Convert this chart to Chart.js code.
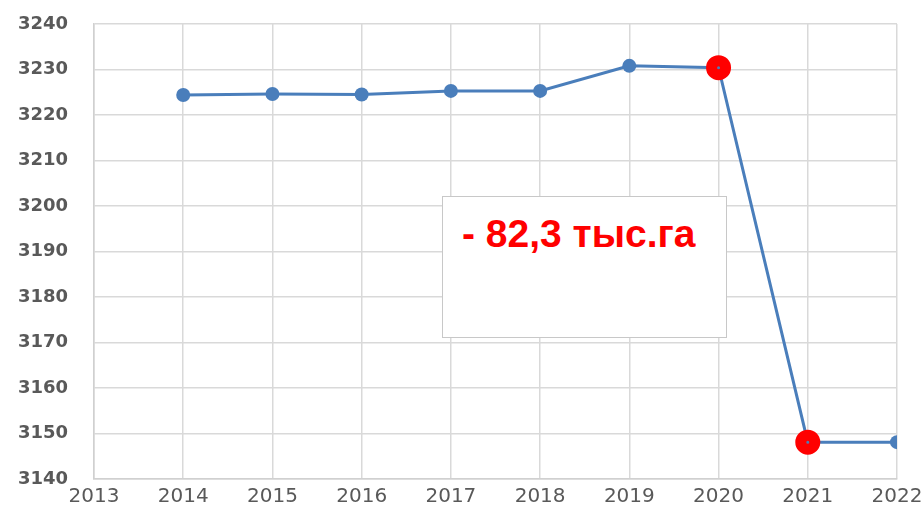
<!DOCTYPE html>
<html>
<head>
<meta charset="utf-8">
<script src="https://cdn.jsdelivr.net/npm/chart.js@4"></script>
<style>
  body { margin: 0; background: #fff; }
  #wrap { position: relative; width: 924px; height: 521px; }
  #note {
    position: absolute; left: 442px; top: 196px; width: 285px; height: 142px;
    border: 1.5px solid #c8c8c8; background: #fff; box-sizing: border-box;
  }
  #note span {
    position: absolute; left: 19px; top: 15px; color: #ff0000;
    font: bold 39px "Liberation Sans", Arial, sans-serif; white-space: nowrap;
  }
</style>
</head>
<body>
<div id="wrap">
  <canvas id="ctx" width="924" height="521"></canvas>
  <div id="note"><span>- 82,3 тыс.га</span></div>
</div>
<script>
const years = [2014, 2015, 2016, 2017, 2018, 2019, 2020, 2021, 2022];
const area = [3224.4, 3224.6, 3224.5, 3225.3, 3225.3, 3230.8, 3230.4, 3148.1, 3148.1];
const highlight = [2020, 2021];
const yTicks = [3140, 3150, 3160, 3170, 3180, 3190, 3200, 3210, 3220, 3230, 3240];

const points = [];
for (let i = 0; i < years.length; i++) {
  points.push({ x: years[i], y: area[i] });
}
const isHot = (c) => highlight.includes(years[c.dataIndex]);

const ctx = document.getElementById("ctx");
new Chart(ctx, {
  type: "line",
  data: {
    datasets: [
      {
        data: points,
        borderColor: "#4a7ebb",
        borderWidth: 3,
        pointRadius: 7,
        pointBackgroundColor: "#4a7ebb",
        pointBorderColor: (c) => (isHot(c) ? "#ff0000" : "#4a7ebb"),
        pointBorderWidth: (c) => (isHot(c) ? 11 : 0),
        tension: 0,
      },
    ],
  },
  options: {
    responsive: false,
    animation: false,
    layout: { padding: { top: 24, right: 27, left: 0, bottom: 0 } },
    plugins: { legend: { display: false }, tooltip: { enabled: false } },
    scales: {
      x: {
        type: "linear",
        min: 2013,
        max: 2022,
        ticks: {
          stepSize: 1,
          color: "#595959",
          font: { family: "DejaVu Sans", size: 20 },
          callback: (v) => String(v),
          padding: 6,
          maxRotation: 0,
        },
        grid: { color: "#d9d9d9", lineWidth: 1.5, drawTicks: false },
        border: { color: "#d0d0d0", width: 1.5 },
        afterFit: (s) => {
          s.height = 42;
          s.paddingLeft = 0;
          s.paddingRight = 0;
        },
      },
      y: {
        min: 3140,
        max: 3240,
        afterBuildTicks: (s) => { s.ticks = yTicks.map((v) => ({ value: v })); },
        ticks: {
          color: "#595959",
          font: { family: "DejaVu Sans", size: 18, weight: "bold" },
          callback: (v) => String(v),
          padding: 26,
        },
        grid: { color: "#d9d9d9", lineWidth: 1.5, drawTicks: false },
        border: { color: "#d0d0d0", width: 1.5 },
        afterFit: (s) => {
          s.width = 94;
          s.paddingTop = 0;
          s.paddingBottom = 0;
        },
      },
    },
  },
});
</script>
</body>
</html>
